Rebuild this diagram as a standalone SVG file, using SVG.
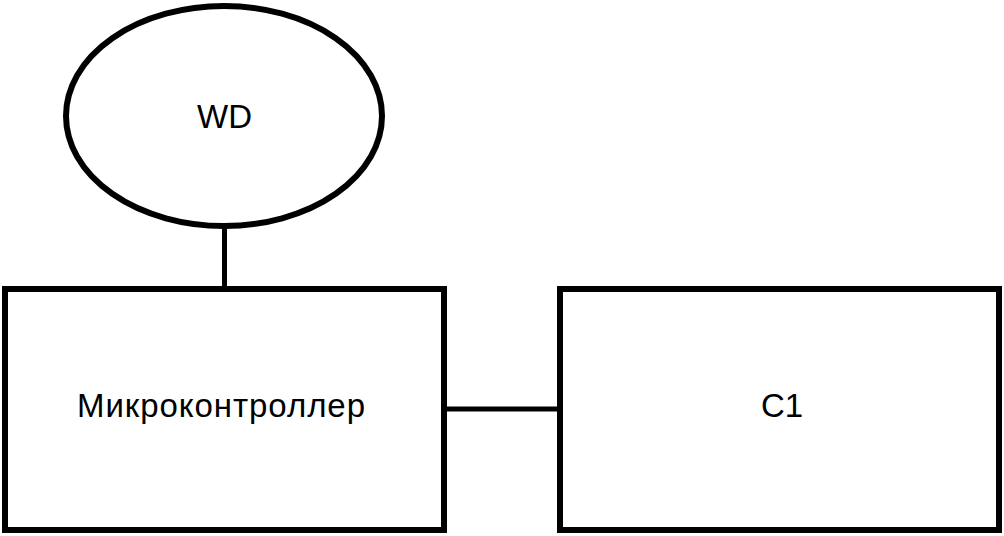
<svg xmlns="http://www.w3.org/2000/svg" width="1004" height="536" viewBox="0 0 1004 536">
<style>
.shape{fill:#fff;stroke:#000;stroke-width:6}
.conn{stroke:#000;stroke-width:5;fill:none}
.lbl{font-family:"Liberation Sans",Arial,sans-serif;font-size:33px;fill:#000;text-anchor:middle}
</style>
<rect width="1004" height="536" fill="#fff"/>
<g id="connectors">
<line class="conn" x1="224.5" y1="226" x2="224.5" y2="289"/>
<line class="conn" x1="444" y1="409" x2="559" y2="409"/>
</g>
<g id="wd">
<ellipse class="shape" cx="224" cy="116" rx="158" ry="110"/>
<text class="lbl" x="224.5" y="128">WD</text>
</g>
<g id="mcu">
<rect class="shape" x="5" y="289" width="439" height="241"/>
<text class="lbl" x="221" y="417" textLength="288" lengthAdjust="spacing">Микроконтроллер</text>
</g>
<g id="c1">
<rect class="shape" x="560" y="289" width="439" height="241"/>
<text class="lbl" x="782" y="417">C1</text>
</g>
</svg>
